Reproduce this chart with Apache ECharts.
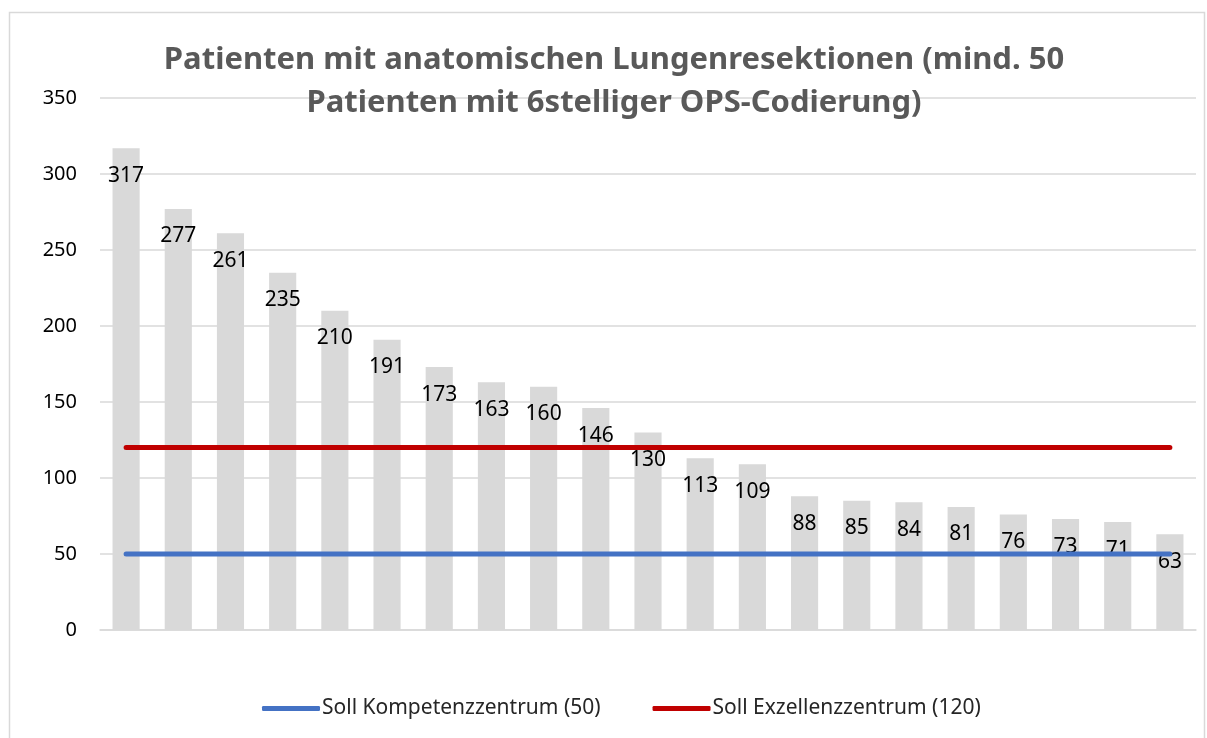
<!DOCTYPE html>
<html><head><meta charset="utf-8">
<script src="https://cdn.jsdelivr.net/npm/echarts@6/dist/echarts.min.js"></script>
<style>html,body{margin:0;padding:0;background:#fff}#c{width:1207px;height:738px}</style>
</head><body><div id="c"></div>
<script>
const categories = ['1','2','3','4','5','6','7','8','9','10','11','12','13','14','15','16','17','18','19','20','21'];
const patients = [317,277,261,235,210,191,173,163,160,146,130,113,109,88,85,84,81,76,73,71,63];
const sollKompetenz = 50;
const sollExzellenz = 120;
const yTicks = [0,50,100,150,200,250,300,350];
const titleText = 'Patienten mit anatomischen Lungenresektionen (mind. 50\nPatienten mit 6stelliger OPS-Codierung)';
const nameKomp = 'Soll Kompetenzzentrum (50)';
const nameExz = 'Soll Exzellenzzentrum (120)';

const FONT = 'Noto Sans';
const chart = echarts.init(document.getElementById('c'));
chart.setOption({
  animation: false,
  textStyle: {fontFamily: FONT},
  graphic: [{type:'rect', shape:{x:9.5,y:12.5,width:1195,height:740}, style:{fill:'none', stroke:'#d9d9d9', lineWidth:1.5}, silent:true}],
  title: {
    text: titleText, left: 609, top: 34, textAlign: 'center',
    textStyle: {fontFamily: FONT, fontWeight:'bold', fontSize: 31, color:'#595959', lineHeight: 43}
  },
  grid: {left: 100, right: 11, top: 98, bottom: 108, containLabel: false},
  legend: {
    top: 693, left: 257, itemGap: 52, itemWidth: 58, itemHeight: 5, icon: 'roundRect',
    data: [nameKomp, nameExz],
    textStyle: {fontFamily: FONT, fontSize: 21, color:'#262626', padding:[0,0,0,-3]}
  },
  xAxis: {
    type: 'category', data: categories, boundaryGap: true,
    axisLine: {lineStyle:{color:'#d9d9d9', width:1.5}}, axisTick:{show:false}, axisLabel:{show:false}
  },
  yAxis: {
    type: 'value', min: 0, max: 350, interval: 50,
    axisLine:{show:false}, axisTick:{show:false},
    axisLabel: {fontFamily: FONT, fontSize: 20, color:'#000', margin: 23,
      formatter: v => yTicks.includes(v) ? String(v) : ''},
    splitLine: {lineStyle:{color:'#d9d9d9', width:1.5}}
  },
  series: [
    {type:'bar', data: patients, barWidth: '52%', itemStyle:{color:'#d9d9d9'},
     label:{show:true, position:'insideTop', distance: 17, fontFamily: FONT, fontSize:21, color:'#000'}, z: 2},
    {type:'line', name: nameKomp, data: categories.map(()=>sollKompetenz), symbol:'none',
     lineStyle:{color:'#4472c4', width:5, cap:'round'}, itemStyle:{color:'#4472c4'}, z: 3},
    {type:'line', name: nameExz, data: categories.map(()=>sollExzellenz), symbol:'none',
     lineStyle:{color:'#c00000', width:5, cap:'round'}, itemStyle:{color:'#c00000'}, z: 3}
  ]
});
</script></body></html>
